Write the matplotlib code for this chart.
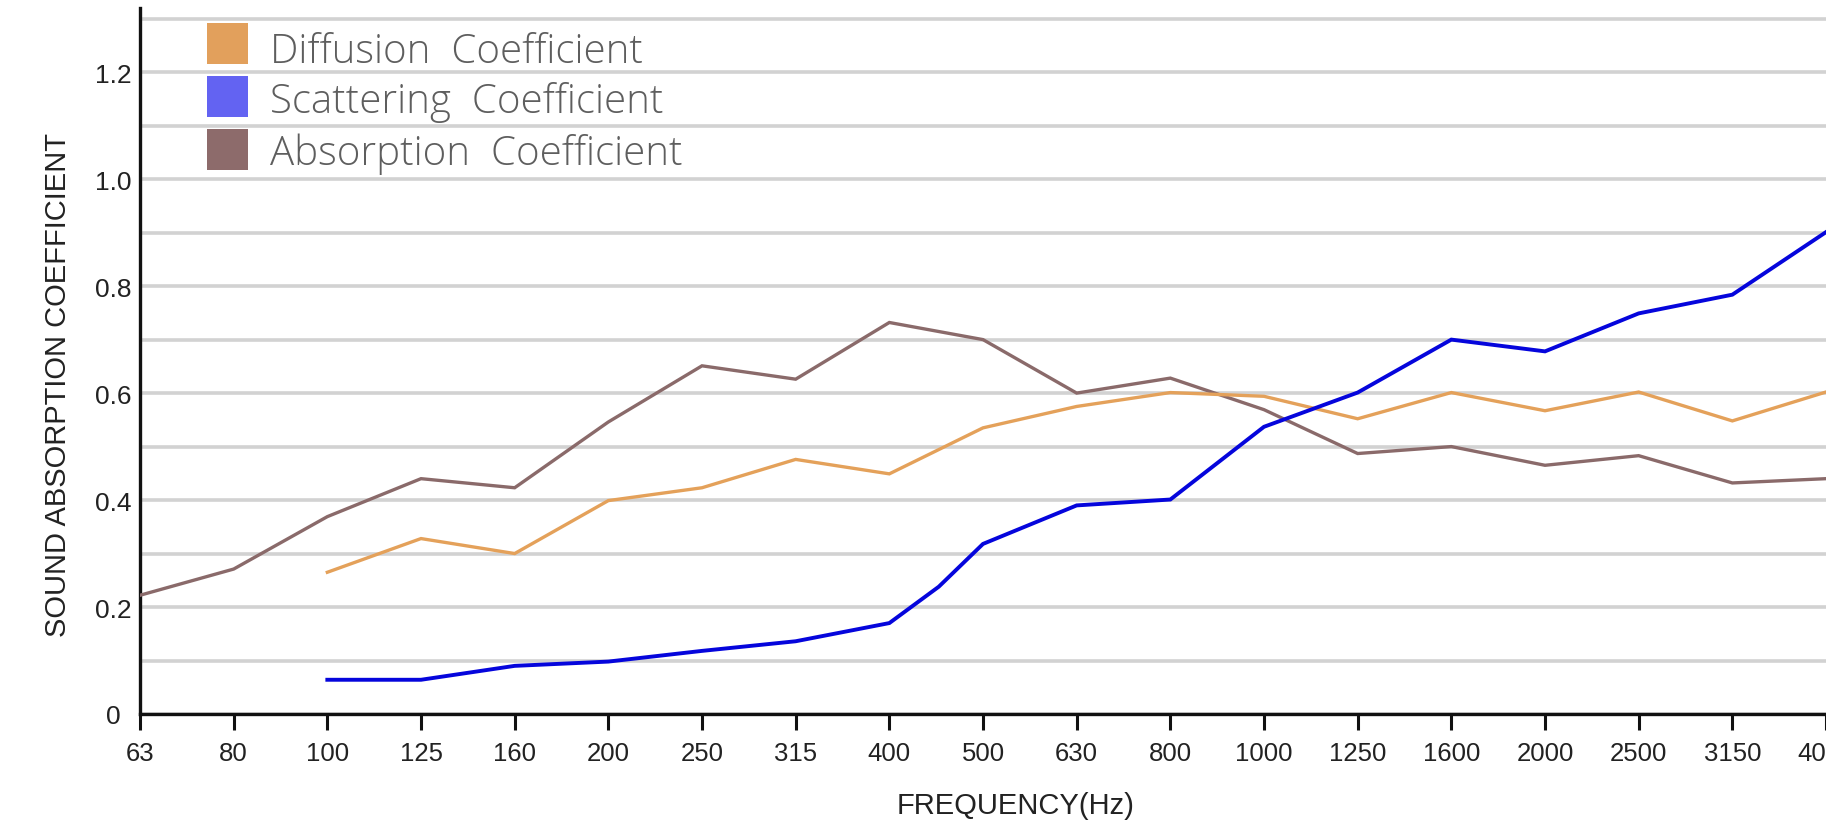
import numpy as np
import matplotlib
matplotlib.use("Agg")
import matplotlib.pyplot as plt
from matplotlib.patches import Rectangle

# ---- data ----
freq_labels = ["63", "80", "100", "125", "160", "200", "250", "315", "400", "500",
               "630", "800", "1000", "1250", "1600", "2000", "2500", "3150", "4000"]
freq_nominal = [63, 80, 100, 125, 160, 200, 250, 315, 400, 500,
                630, 800, 1000, 1250, 1600, 2000, 2500, 3150, 4000]

absorption_freqs = [63, 80, 100, 125, 160, 200, 250, 315, 400, 500,
                    630, 800, 1000, 1250, 1600, 2000, 2500, 3150, 4000]
absorption = [0.222, 0.271, 0.369, 0.440, 0.423, 0.546, 0.651, 0.626, 0.732, 0.700,
              0.600, 0.628, 0.569, 0.487, 0.500, 0.465, 0.483, 0.432, 0.440]

diffusion_freqs = [100, 125, 160, 200, 250, 315, 400, 500,
                   630, 800, 1000, 1250, 1600, 2000, 2500, 3150, 4000]
diffusion = [0.265, 0.328, 0.300, 0.399, 0.423, 0.476, 0.449, 0.535,
             0.575, 0.601, 0.594, 0.552, 0.601, 0.567, 0.602, 0.548, 0.602]

scattering_freqs = [100, 125, 160, 200, 250, 315, 400, 450, 500,
                    630, 800, 1000, 1250, 1600, 2000, 2500, 3150, 4000]
scattering = [0.064, 0.064, 0.090, 0.098, 0.118, 0.136, 0.170, 0.238, 0.318,
              0.390, 0.401, 0.537, 0.601, 0.700, 0.678, 0.749, 0.784, 0.901]

series_names = ["Diffusion  Coefficient", "Scattering  Coefficient", "Absorption  Coefficient"]
legend_colors = ["#E2A05C", "#6363F2", "#8D6B6B"]
line_colors = ["#E4A15A", "#0505DC", "#8A6A6A"]

ytick_vals = [round(0.1 * k, 1) for k in range(14)]
ytick_labels = ["0", "", "0.2", "", "0.4", "", "0.6", "", "0.8", "", "1.0", "", "1.2", ""]


def to_pos(freqs):
    idx = np.arange(len(freq_nominal))
    return np.interp(np.log(freqs), np.log(freq_nominal), idx)


W, H = 1826, 829
fig = plt.figure(figsize=(W / 100, H / 100), dpi=100)
ax = fig.add_axes([140 / W, 1 - 715 / H, (W - 140) / W, (715 - 9) / H])

ax.set_xlim(0, len(freq_nominal) - 1)
ax.set_ylim(0, 1.32)

ax.set_yticks(ytick_vals)
ax.set_yticklabels(ytick_labels, fontsize=19, family=["Liberation Sans", "DejaVu Sans"],
                   color="#222222", ha="center")
ax.tick_params(axis="y", length=0, pad=19.5)
ax.yaxis.grid(True, color="#D2D2D2", linewidth=2.6)
ax.set_axisbelow(True)

ax.set_xticks(np.arange(len(freq_labels)))
ax.set_xticklabels(freq_labels, fontsize=18.5, family=["Liberation Sans", "DejaVu Sans"],
                   color="#222222")
ax.tick_params(axis="x", length=11.5, width=2.2, direction="out", pad=8, color="#111111")

for s in ["top", "right"]:
    ax.spines[s].set_visible(False)
for s in ["left", "bottom"]:
    ax.spines[s].set_linewidth(2.4)
    ax.spines[s].set_color("#111111")

ax.plot(to_pos(absorption_freqs), absorption, color=line_colors[2], lw=2.4, zorder=3,
        solid_joinstyle="miter")
ax.plot(to_pos(diffusion_freqs), diffusion, color=line_colors[0], lw=2.4, zorder=3,
        solid_joinstyle="miter")
ax.plot(to_pos(scattering_freqs), scattering, color=line_colors[1], lw=2.8, zorder=4,
        solid_joinstyle="miter")

fig.text(1016 / W, 1 - 806 / H, "FREQUENCY(Hz)", ha="center", va="center",
         fontsize=21, family=["Liberation Sans", "DejaVu Sans"], color="#222222")
fig.text(58 / W, 1 - 385 / H, "SOUND ABSORPTION COEFFICIENT", ha="center", va="center",
         rotation=90, fontsize=21, family=["Liberation Sans", "DejaVu Sans"], color="#222222")

# manual legend
sq_tops = [24, 77, 130]
baselines = [63, 113, 165]
for name, col, top, base in zip(series_names, legend_colors, sq_tops, baselines):
    fig.add_artist(Rectangle((207 / W, 1 - (top + 41) / H), 41 / W, 41 / H,
                             transform=fig.transFigure, facecolor=col, edgecolor="none",
                             zorder=5))
    fig.text(270 / W, 1 - base / H, name, ha="left", va="baseline", fontsize=29,
             family=["Open Sans", "DejaVu Sans"], fontweight="light", color="#5E5E5E",
             zorder=6)

fig.savefig("out.png", dpi=100)
